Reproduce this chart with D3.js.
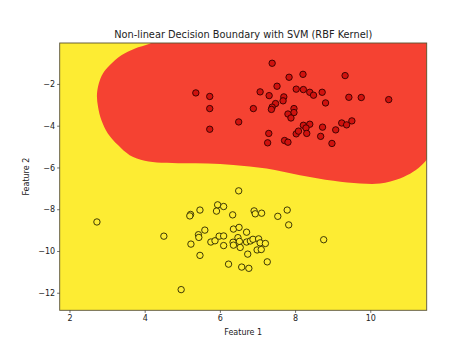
<!DOCTYPE html>
<html><head><meta charset="utf-8">
<script src="https://cdn.jsdelivr.net/npm/d3@7"></script>
<style>body{margin:0;background:#fff}svg{display:block}text{font-family:"DejaVu Sans",sans-serif;fill:#222}</style>
</head><body><svg id="c" width="474" height="355"></svg>
<script>
// Class 0 (red cluster)
const redX = [5.36,5.73,5.73,5.73,6.50,6.89,7.07,7.39,7.31,7.52,7.84,8.21,8.03,8.22,8.39,8.49,7.70,7.68,7.48,7.39,7.37,7.97,7.97,7.81,7.89,7.30,7.27,7.72,7.81,8.03,8.09,8.22,8.39,8.29,8.31,8.68,9.33,8.72,8.81,9.43,9.76,10.49,8.73,9.08,9.24,9.37,9.51,8.98];
const redY = [-2.43,-2.60,-3.18,-4.17,-3.82,-3.18,-2.38,-1.01,-2.56,-2.11,-1.68,-1.54,-2.25,-2.27,-2.40,-2.54,-2.62,-2.81,-2.94,-3.11,-3.22,-3.18,-3.37,-3.44,-3.63,-4.37,-4.82,-4.71,-4.79,-4.39,-4.26,-3.98,-3.93,-4.11,-4.37,-4.51,-1.60,-2.40,-2.91,-2.64,-2.65,-2.75,-4.07,-4.20,-3.87,-3.96,-3.77,-4.85];
// Class 1 (yellow cluster)
const yelX = [6.50,5.94,6.10,5.91,5.47,5.22,5.20,6.34,6.91,6.94,7.11,7.79,7.54,7.83,5.60,5.43,5.44,5.23,5.47,5.76,5.87,5.98,6.10,6.10,6.36,6.51,6.71,6.48,6.52,6.35,6.36,6.54,6.71,6.81,6.88,7.03,7.07,7.21,6.99,7.10,6.74,7.26,6.23,6.58,6.77,4.97,4.51,2.73,8.76];
const yelY = [-7.12,-7.79,-7.87,-8.09,-8.04,-8.25,-8.32,-8.27,-8.08,-8.22,-8.19,-8.04,-8.34,-8.75,-9.00,-9.22,-9.35,-9.67,-10.21,-9.57,-9.51,-9.29,-9.28,-9.74,-8.95,-8.87,-9.10,-9.36,-9.54,-9.58,-9.72,-9.83,-9.57,-9.52,-9.44,-9.42,-9.61,-9.64,-9.95,-9.93,-10.15,-10.52,-10.63,-10.77,-10.83,-11.85,-9.29,-8.61,-9.46];
// Decision boundary (red region outline), data coordinates
const boundX = [4.45,4.13,3.73,3.38,3.07,2.89,2.78,2.73,2.76,2.85,3.02,3.29,3.60,4.00,4.44,5.05,5.68,6.36,7.24,8.13,9.02,9.73,10.26,10.79,11.14,11.41,11.62,11.80];
const boundY = [0.15,-0.07,-0.31,-0.63,-1.11,-1.50,-1.98,-2.54,-3.10,-3.74,-4.37,-4.93,-5.41,-5.68,-5.78,-5.80,-5.81,-5.88,-6.05,-6.37,-6.64,-6.77,-6.77,-6.53,-6.21,-5.81,-5.30,-4.60];
const outerX = [12.5,12.5,4.45];
const outerY = [-4.60,1.0,1.0];
const xTicks = [2,4,6,8,10];
const yTicks = [-2,-4,-6,-8,-10,-12];
const title = "Non-linear Decision Boundary with SVM (RBF Kernel)";
const xLabel = "Feature 1", yLabel = "Feature 2";

const L = 59.7, R = 426.7, T = 43, B = 310.3;
const x = d3.scaleLinear().domain([1.74, 11.5]).range([L, R]);
const y = d3.scaleLinear().domain([-12.84, -0.04]).range([B, T]);
const svg = d3.select("#c");

svg.append("clipPath").attr("id","clip").append("rect")
  .attr("x",L).attr("y",T).attr("width",R-L).attr("height",B-T);
const g = svg.append("g").attr("clip-path","url(#clip)");
g.append("rect").attr("x",L).attr("y",T).attr("width",R-L).attr("height",B-T).attr("fill","#fdec33");
const bpts = boundX.map((v,i)=>[x(v), y(boundY[i])]);
const line = d3.line().curve(d3.curveCatmullRom.alpha(0.5));
const opts = outerX.map((v,i)=>[x(v), y(outerY[i])]);
g.append("path").attr("d", line(bpts) + opts.map(p=>"L"+p[0]+","+p[1]).join("") + "Z")
  .attr("fill","#f54232");

const pts = svg.append("g");
pts.selectAll("circle.r").data(redX.map((v,i)=>[v,redY[i]])).join("circle")
  .attr("cx",d=>x(d[0])).attr("cy",d=>y(d[1])).attr("r",3.2)
  .attr("fill","#d0120e").attr("stroke","#300").attr("stroke-width",0.9);
pts.selectAll("circle.y").data(yelX.map((v,i)=>[v,yelY[i]])).join("circle")
  .attr("cx",d=>x(d[0])).attr("cy",d=>y(d[1])).attr("r",3.2)
  .attr("fill","#fdec33").attr("stroke","#2a2600").attr("stroke-width",0.9);

// frame
svg.append("rect").attr("x",L).attr("y",T).attr("width",R-L).attr("height",B-T)
  .attr("fill","none").attr("stroke","#5a5230").attr("stroke-width",0.9);

const xa = svg.append("g").attr("transform",`translate(0,${B})`)
  .call(d3.axisBottom(x).tickValues(xTicks).tickSize(2.6).tickPadding(2).tickFormat(d3.format("d")));
const ya = svg.append("g").attr("transform",`translate(${L},0)`)
  .call(d3.axisLeft(y).tickValues(yTicks).tickSize(2.6).tickPadding(2).tickFormat(d=>d<0?"\u2212"+Math.abs(d):d));
[xa,ya].forEach(a=>{a.select(".domain").remove();
  a.selectAll("line").attr("stroke","#333").attr("stroke-width",0.7);
  a.selectAll("text").attr("font-family","DejaVu Sans").attr("font-size","8px").attr("fill","#222");});

svg.append("text").attr("x",(L+R)/2).attr("y",37.8).attr("text-anchor","middle")
  .attr("font-size","9.8px").text(title);
svg.append("text").attr("x",(L+R)/2).attr("y",334.8).attr("text-anchor","middle")
  .attr("font-size","8px").text(xLabel);
svg.append("text").attr("transform",`translate(28.8,${(T+B)/2}) rotate(-90)`).attr("text-anchor","middle")
  .attr("font-size","8px").text(yLabel);
</script></body></html>
